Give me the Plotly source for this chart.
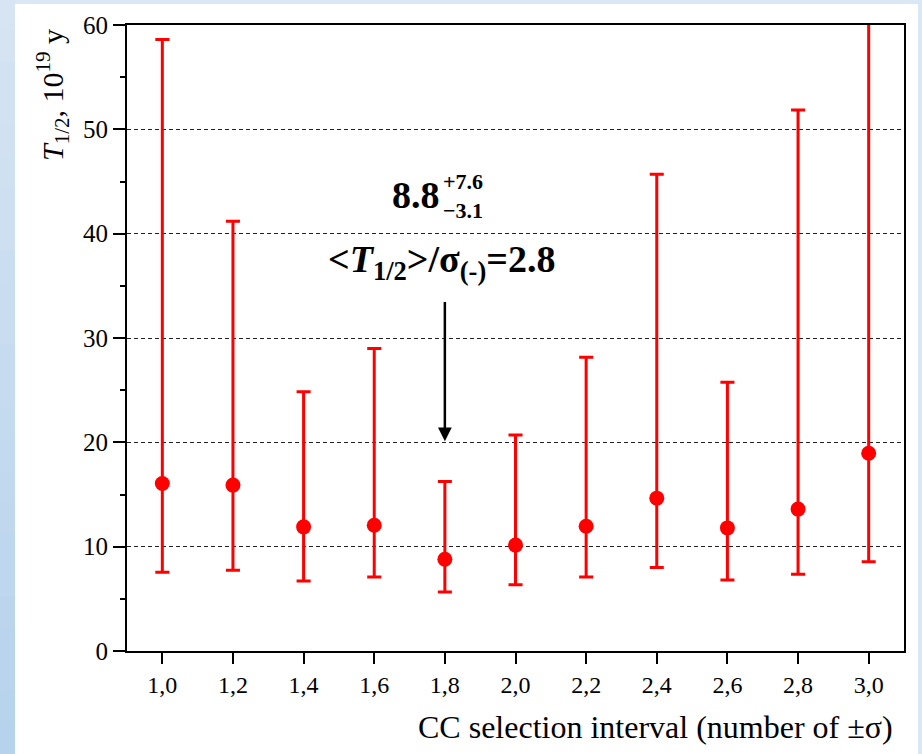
import plotly.graph_objects as go

# ---- data ----
x_vals = [1.0, 1.2, 1.4, 1.6, 1.8, 2.0, 2.2, 2.4, 2.6, 2.8, 3.0]
x_labels = ["1,0", "1,2", "1,4", "1,6", "1,8", "2,0", "2,2", "2,4", "2,6", "2,8", "3,0"]
t_half = [16.05, 15.9, 11.9, 12.05, 8.8, 10.15, 11.95, 14.65, 11.8, 13.6, 18.95]
upper = [58.6, 41.2, 24.85, 29.0, 16.25, 20.7, 28.15, 45.7, 25.75, 51.85, 62.0]
lower = [7.55, 7.75, 6.7, 7.1, 5.65, 6.35, 7.1, 8.0, 6.8, 7.35, 8.55]
y_ticks = [0, 10, 20, 30, 40, 50, 60]

err_plus = [u - v for u, v in zip(upper, t_half)]
err_minus = [v - l for v, l in zip(t_half, lower)]

W, H = 922, 754
L, R, T, B = 127, 18, 25, 103
PW, PH = W - L - R, H - T - B


def px(xp):
    return (xp - L) / PW


def py(yp):
    return (H - B - yp) / PH


RED = "#ff0000"
FONT = "Liberation Serif"

fig = go.Figure()
fig.add_trace(go.Scatter(
    x=x_vals, y=t_half, mode="markers",
    marker=dict(color=RED, size=15, symbol="circle"),
    error_y=dict(type="data", symmetric=False, array=err_plus, arrayminus=err_minus,
                 color=RED, thickness=3, width=7),
    showlegend=False,
))

shapes = []
# white card over light-blue page
shapes.append(dict(type="rect", xref="paper", yref="paper",
                   x0=px(15), x1=px(918), y0=py(760), y1=py(4),
                   fillcolor="white", line=dict(width=0), layer="below"))
# left gradient strip
n = 24
c_top = (214, 228, 243)
c_bot = (183, 210, 236)
for i in range(n):
    f = i / (n - 1)
    c = tuple(int(round(a + (b - a) * f)) for a, b in zip(c_top, c_bot))
    y0p = i * H / n
    y1p = (i + 1) * H / n + 1
    shapes.append(dict(type="rect", xref="paper", yref="paper",
                       x0=px(-2), x1=px(15), y0=py(y1p), y1=py(y0p - 1),
                       fillcolor="rgb(%d,%d,%d)" % c, line=dict(width=0), layer="below"))

annotations = [
    # arrow
    dict(x=1.8, y=20.1, ax=1.8, ay=33.6, xref="x", yref="y", axref="x", ayref="y",
         text="", showarrow=True, arrowhead=2, arrowsize=1.1, arrowwidth=2.5,
         arrowcolor="black", standoff=0),
    # value
    dict(x=px(416), y=py(195), xref="paper", yref="paper", text="<b>8.8</b>", showarrow=False,
         font=dict(family=FONT, size=38, color="black"), xanchor="center", yanchor="middle"),
    dict(x=px(441), y=py(196), xref="paper", yref="paper",
         text="<b>+7.6<br>\u22123.1</b>", showarrow=False, align="left",
         font=dict(family=FONT, size=22, color="black"), xanchor="left", yanchor="middle"),
    dict(x=px(441), y=py(262), xref="paper", yref="paper",
         text="<b>&lt;<i>T</i><sub>1/2</sub>&gt;/\u03c3<sub>(-)</sub>=2.8</b>", showarrow=False,
         font=dict(family=FONT, size=38, color="black"), xanchor="center", yanchor="middle"),
    # axis titles
    dict(x=px(895), y=py(727), xref="paper", yref="paper",
         text="CC selection interval (number of \u00b1\u03c3)", showarrow=False,
         font=dict(family=FONT, size=32, color="black"), xanchor="right", yanchor="middle"),
    dict(x=px(52), y=py(95), xref="paper", yref="paper", textangle=-90,
         text="<i>T</i><sub>1/2</sub>, 10<sup>19</sup> y", showarrow=False,
         font=dict(family=FONT, size=30, color="black"), xanchor="center", yanchor="middle"),
]

fig.update_layout(
    width=W, height=H,
    margin=dict(l=L, r=R, t=T, b=B, autoexpand=False),
    paper_bgcolor="#dae7f4",
    plot_bgcolor="white",
    shapes=shapes,
    annotations=annotations,
    font=dict(family=FONT, size=24, color="black"),
    xaxis=dict(range=[0.9, 3.1], tickvals=x_vals, ticktext=x_labels,
               ticks="outside", ticklen=11, tickwidth=2, tickcolor="black",
               showline=True, linewidth=2, linecolor="black", mirror=True,
               showgrid=False, zeroline=False,
               tickfont=dict(family=FONT, size=24, color="black")),
    yaxis=dict(range=[0, 60], tickvals=y_ticks,
               ticks="outside", ticklen=12, tickwidth=2, tickcolor="black",
               showline=True, linewidth=2, linecolor="black", mirror=True,
               showgrid=True, gridcolor="#222222", gridwidth=1, griddash="4px,3px",
               zeroline=False,
               minor=dict(dtick=5, ticks="outside", ticklen=5, tickwidth=2,
                          tickcolor="black", showgrid=False),
               tickfont=dict(family=FONT, size=25, color="black")),
)

fig.write_html("out.html", config={"displayModeBar": False},
               post_script="document.body.style.margin='0';document.body.style.overflow='hidden';")
